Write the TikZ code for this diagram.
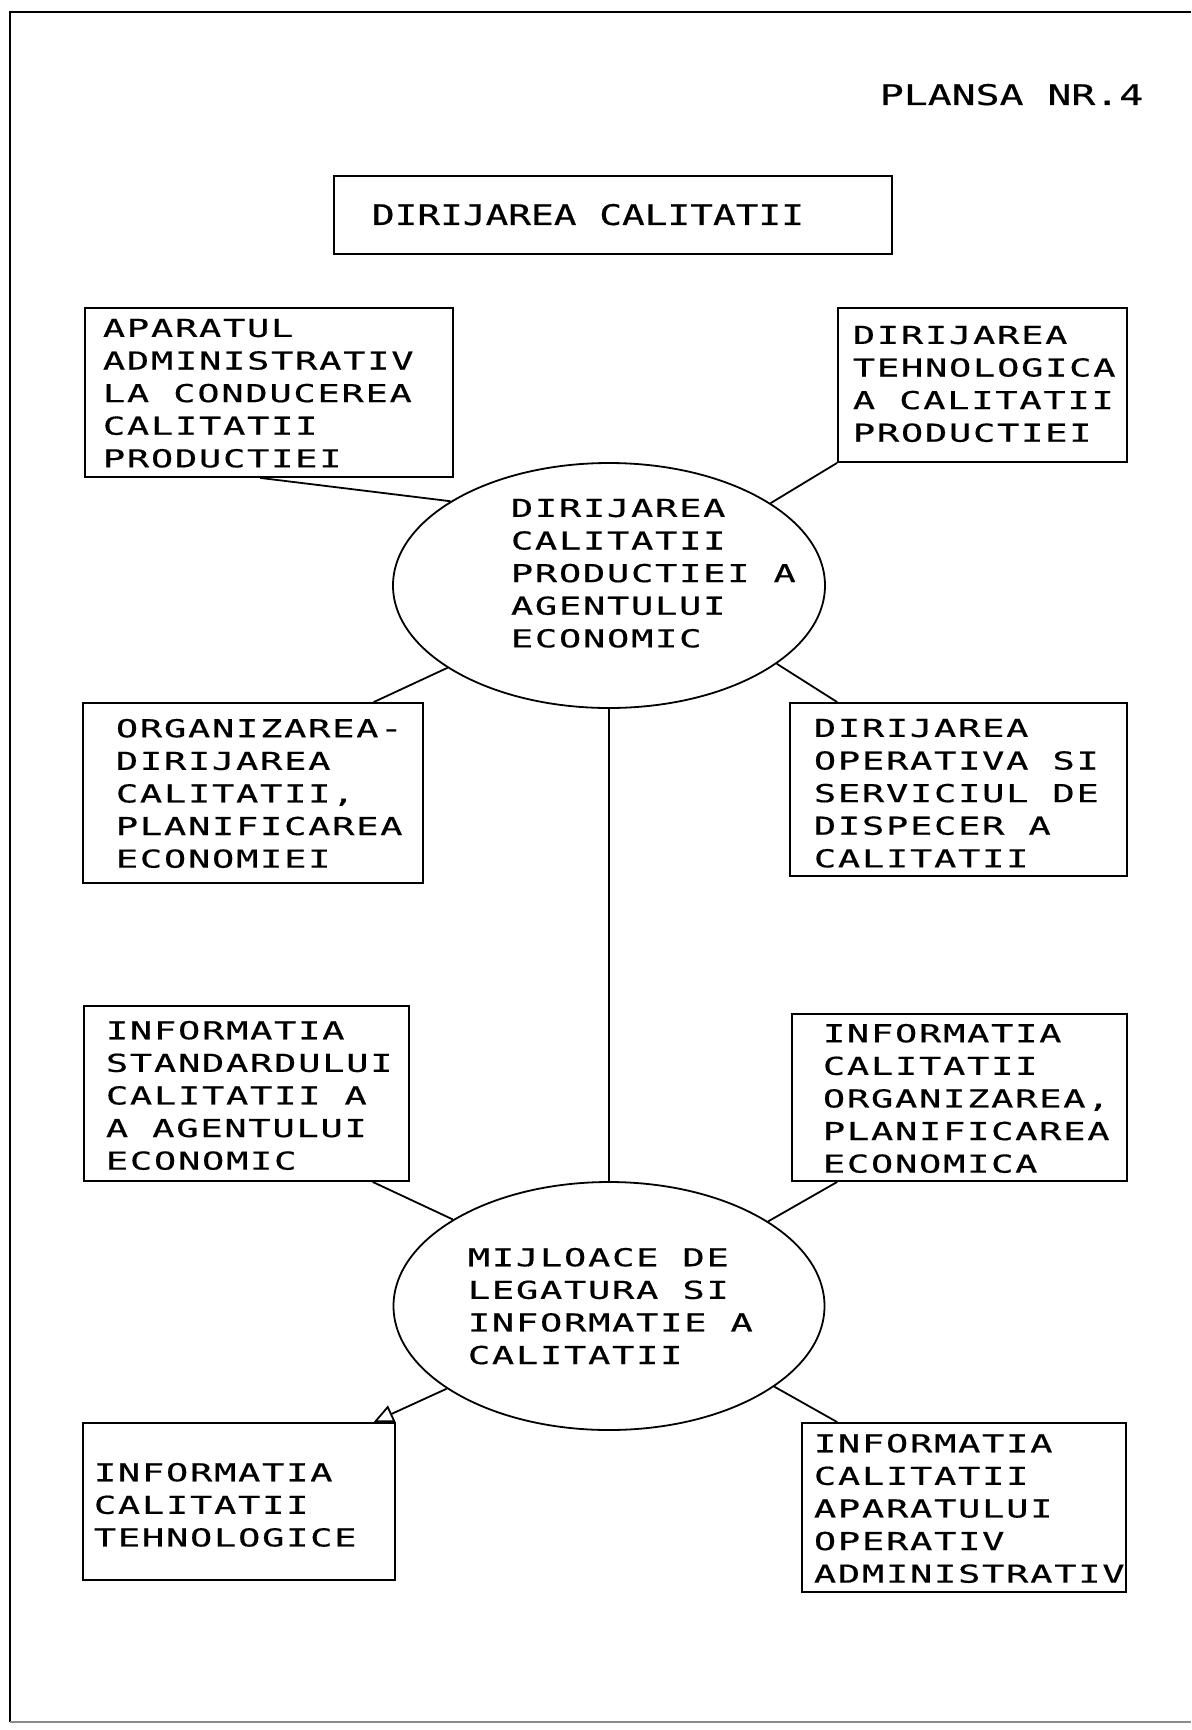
\documentclass[tikz,border=0pt]{standalone}
\usepackage{fontspec}
\newfontfamily\cadfont[FakeStretch=1.5,LetterSpace=7,FakeBold=0.5]{DejaVu Sans Mono}
\newfontfamily\cadtitlefont[FakeStretch=1.4,LetterSpace=0,FakeBold=0.5]{DejaVu Sans Mono}
\newfontfamily\cadheadfont[FakeStretch=1.33,LetterSpace=0,FakeBold=0.5]{DejaVu Sans Mono}
\usetikzlibrary{calc,arrows.meta,shapes.geometric}
\begin{document}
\begin{tikzpicture}[x=0.5pt,y=-0.5pt,line width=0.9pt,
  box/.style={draw,rectangle,inner sep=0pt},
  oval/.style={draw,ellipse,inner sep=0pt},
  txt/.style={anchor=north west,inner sep=0pt,align=left,
    font=\cadfont\fontsize{12.35pt}{16.3pt}\selectfont},
  bigtxt/.style={anchor=north west,inner sep=0pt,align=left,
    font=\cadtitlefont\fontsize{14.2pt}{18pt}\selectfont},
  headtxt/.style={anchor=north west,inner sep=0pt,align=left,
    font=\cadheadfont\fontsize{14.2pt}{18pt}\selectfont},
  link/.style={line width=0.9pt},
  arrowlink/.style={line width=0.9pt,-{Triangle[open,length=10pt,width=9pt]}}]

\useasboundingbox (0,0) rectangle (1191,1730);
\draw (1191,12) -- (10,12) -- (10,1722);
\draw[black!45] (10,1722) -- (1191,1722);

% header
\node[bigtxt] (plansa) at (879,83) {PLANSA NR.4};
\node[box,minimum width=279pt,minimum height=39pt] (T) at (613,215) {};
\node[headtxt] (Tt) at (371,203) {DIRIJAREA CALITATII};

% boxes
\node[box,minimum width=184pt,minimum height=84.5pt] (A) at (269,392.5) {};
\node[txt] (At) at (102,318) {APARATUL\\ADMINISTRATIV\\LA CONDUCEREA\\CALITATII\\PRODUCTIEI};

\node[box,minimum width=144.5pt,minimum height=77pt] (B) at (982.5,385) {};
\node[txt] (Bt) at (852,325) {DIRIJAREA\\TEHNOLOGICA\\A CALITATII\\PRODUCTIEI};

\node[box,minimum width=170pt,minimum height=90pt] (C) at (253,793) {};
\node[txt] (Ct) at (115,718) {ORGANIZAREA-\\DIRIJAREA\\CALITATII,\\PLANIFICAREA\\ECONOMIEI};

\node[box,minimum width=168.5pt,minimum height=86.5pt] (D) at (958.5,789.5) {};
\node[txt] (Dt) at (813,718) {DIRIJAREA\\OPERATIVA SI\\SERVICIUL DE\\DISPECER A\\CALITATII};

\node[box,minimum width=162.5pt,minimum height=87.5pt] (E) at (246.5,1093.5) {};
\node[txt] (Et) at (105,1020) {INFORMATIA\\STANDARDULUI\\CALITATII A\\A AGENTULUI\\ECONOMIC};

\node[box,minimum width=167.5pt,minimum height=83.5pt] (F) at (959.5,1097.5) {};
\node[txt] (Ft) at (822,1023) {INFORMATIA\\CALITATII\\ORGANIZAREA,\\PLANIFICAREA\\ECONOMICA};

\node[box,minimum width=156pt,minimum height=78.5pt] (G) at (239,1501.5) {};
\node[txt] (Gt) at (93,1462) {INFORMATIA\\CALITATII\\TEHNOLOGICE};

\node[box,minimum width=162pt,minimum height=84.5pt] (H) at (964,1507.5) {};
\node[txt] (Ht) at (813,1433) {INFORMATIA\\CALITATII\\APARATULUI\\OPERATIV\\ADMINISTRATIV};

% ellipses
\node[oval,minimum width=216pt,minimum height=122.5pt] (E1) at (609,585.5) {};
\node[txt] (E1t) at (510,498) {DIRIJAREA\\CALITATII\\PRODUCTIEI A\\AGENTULUI\\ECONOMIC};

\node[oval,minimum width=215.5pt,minimum height=124pt] (E2) at (609,1306) {};
\node[txt] (E2t) at (467,1247) {MIJLOACE DE\\LEGATURA SI\\INFORMATIE A\\CALITATII};

% connectors
\draw[link] ($(A.south west)!0.476!(A.south east)$) -- (E1.152);
\draw[link] (B.south west) -- (E1.27);
\draw[link] (E1.207) -- ($(C.north west)!0.853!(C.north east)$);
\draw[link] (E1.335) -- ($(D.north west)!0.142!(D.north east)$);
\draw[link] (E1.south) -- (E2.north);
\draw[link] ($(E.south west)!0.886!(E.south east)$) -- (E2.151);
\draw[link] ($(F.south west)!0.137!(F.south east)$) -- (E2.28);
\draw[arrowlink] (E2.207) -- ($(G.north west)!0.929!(G.north east)$);
\draw[link] (E2.334) -- ($(H.north west)!0.111!(H.north east)$);
\end{tikzpicture}
\end{document}
